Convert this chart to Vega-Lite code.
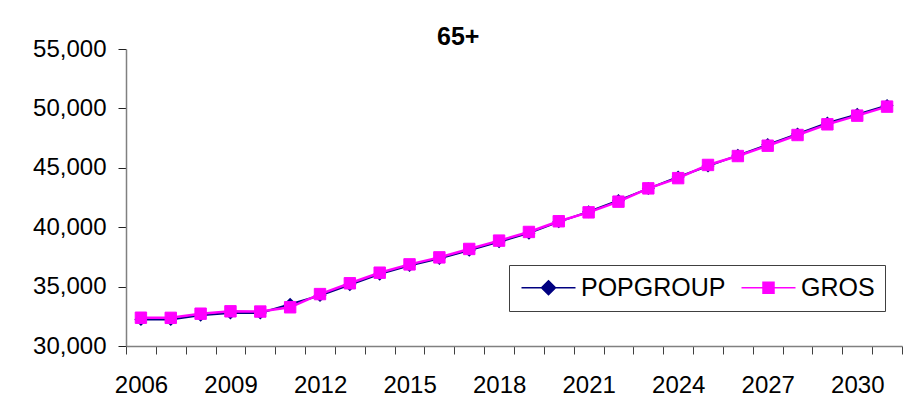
{
  "$schema": "https://vega.github.io/schema/vega-lite/v6.json",
  "width": 776,
  "height": 297,
  "autosize": "none",
  "padding": {"left": 126, "top": 49, "right": 2, "bottom": 65},
  "background": "white",
  "config": {"view": {"stroke": null}, "font": "Liberation Sans"},
  "title": {"text": "65+", "fontSize": 25, "fontWeight": "bold", "font": "Liberation Sans", "color": "black", "anchor": "start", "frame": "group", "dx": 311, "offset": -33, "baseline": "alphabetic"},
  "data": {"values": [
    {"year": 2006, "series": "POPGROUP", "value": 32240},
    {"year": 2007, "series": "POPGROUP", "value": 32240},
    {"year": 2008, "series": "POPGROUP", "value": 32580},
    {"year": 2009, "series": "POPGROUP", "value": 32780},
    {"year": 2010, "series": "POPGROUP", "value": 32780},
    {"year": 2011, "series": "POPGROUP", "value": 33520},
    {"year": 2012, "series": "POPGROUP", "value": 34250},
    {"year": 2013, "series": "POPGROUP", "value": 35150},
    {"year": 2014, "series": "POPGROUP", "value": 36050},
    {"year": 2015, "series": "POPGROUP", "value": 36780},
    {"year": 2016, "series": "POPGROUP", "value": 37360},
    {"year": 2017, "series": "POPGROUP", "value": 38060},
    {"year": 2018, "series": "POPGROUP", "value": 38770},
    {"year": 2019, "series": "POPGROUP", "value": 39500},
    {"year": 2020, "series": "POPGROUP", "value": 40450},
    {"year": 2021, "series": "POPGROUP", "value": 41300},
    {"year": 2022, "series": "POPGROUP", "value": 42250},
    {"year": 2023, "series": "POPGROUP", "value": 43250},
    {"year": 2024, "series": "POPGROUP", "value": 44230},
    {"year": 2025, "series": "POPGROUP", "value": 45150},
    {"year": 2026, "series": "POPGROUP", "value": 46050},
    {"year": 2027, "series": "POPGROUP", "value": 46950},
    {"year": 2028, "series": "POPGROUP", "value": 47850},
    {"year": 2029, "series": "POPGROUP", "value": 48770},
    {"year": 2030, "series": "POPGROUP", "value": 49500},
    {"year": 2031, "series": "POPGROUP", "value": 50250},
    {"year": 2006, "series": "GROS", "value": 32380},
    {"year": 2007, "series": "GROS", "value": 32370},
    {"year": 2008, "series": "GROS", "value": 32720},
    {"year": 2009, "series": "GROS", "value": 32920},
    {"year": 2010, "series": "GROS", "value": 32900},
    {"year": 2011, "series": "GROS", "value": 33260},
    {"year": 2012, "series": "GROS", "value": 34370},
    {"year": 2013, "series": "GROS", "value": 35280},
    {"year": 2014, "series": "GROS", "value": 36170},
    {"year": 2015, "series": "GROS", "value": 36870},
    {"year": 2016, "series": "GROS", "value": 37460},
    {"year": 2017, "series": "GROS", "value": 38170},
    {"year": 2018, "series": "GROS", "value": 38870},
    {"year": 2019, "series": "GROS", "value": 39600},
    {"year": 2020, "series": "GROS", "value": 40500},
    {"year": 2021, "series": "GROS", "value": 41250},
    {"year": 2022, "series": "GROS", "value": 42150},
    {"year": 2023, "series": "GROS", "value": 43270},
    {"year": 2024, "series": "GROS", "value": 44130},
    {"year": 2025, "series": "GROS", "value": 45240},
    {"year": 2026, "series": "GROS", "value": 45990},
    {"year": 2027, "series": "GROS", "value": 46860},
    {"year": 2028, "series": "GROS", "value": 47760},
    {"year": 2029, "series": "GROS", "value": 48660},
    {"year": 2030, "series": "GROS", "value": 49390},
    {"year": 2031, "series": "GROS", "value": 50150}
  ]},
  "encoding": {
    "x": {
      "field": "year", "type": "quantitative",
      "scale": {"domain": [2005.5, 2031.5], "nice": false, "zero": false},
      "axis": {
        "title": null, "grid": false,
        "values": [2005.5, 2006.5, 2007.5, 2008.5, 2009.5, 2010.5, 2011.5, 2012.5, 2013.5, 2014.5, 2015.5, 2016.5, 2017.5, 2018.5, 2019.5, 2020.5, 2021.5, 2022.5, 2023.5, 2024.5, 2025.5, 2026.5, 2027.5, 2028.5, 2029.5, 2030.5, 2031.5],
        "labelExpr": "((datum.value + 0.5 - 2006) % 3 === 0 && datum.value < 2031) ? format(datum.value + 0.5, 'd') : ''",
        "labelOffset": 15, "labelOverlap": false, "labelFlush": false, "labelBound": false,
        "labelFontSize": 24, "labelFont": "Liberation Sans", "labelColor": "black", "labelPadding": 19,
        "tickSize": 8, "tickColor": "#404040", "domainColor": "#808080", "domainWidth": 1.5
      }
    },
    "y": {
      "field": "value", "type": "quantitative",
      "scale": {"domain": [30000, 55000], "nice": false, "zero": false},
      "axis": {
        "title": null, "grid": false,
        "values": [30000, 35000, 40000, 45000, 50000, 55000],
        "format": ",d",
        "labelFontSize": 24, "labelFont": "Liberation Sans", "labelColor": "black", "labelPadding": 12,
        "tickSize": 8, "tickColor": "#202020", "domainColor": "#808080", "domainWidth": 1.5
      }
    }
  },
  "layer": [
    {
      "transform": [{"filter": "datum.series === 'POPGROUP'"}],
      "mark": {"type": "line", "strokeWidth": 2},
      "encoding": {
        "color": {
          "field": "series", "type": "nominal",
          "scale": {"domain": ["POPGROUP", "GROS"], "range": ["#000080", "#FF00FF"]},
          "legend": {
            "title": null, "orient": "none", "legendX": 383, "legendY": 216,
            "direction": "horizontal", "columns": 2, "padding": 10,
            "strokeColor": "#404040", "fillColor": "white",
            "labelFontSize": 25, "labelFont": "Liberation Sans", "labelColor": "black",
            "symbolSize": 400, "symbolOffset": 17, "symbolStrokeWidth": 1.5, "labelOffset": 20, "columnPadding": 12,
            "encode": {
              "symbols": {
                "update": {
                  "shape": {"signal": "datum.value === 'POPGROUP' ? 'M-2.7,0H2.7M0,-0.7L0.7,0L0,0.7L-0.7,0Z' : 'M-2.7,0H2.7M-0.55,-0.55H0.55V0.55H-0.55Z'"},
                  "fill": {"signal": "datum.value === 'POPGROUP' ? '#000080' : '#FF00FF'"},
                  "stroke": {"signal": "datum.value === 'POPGROUP' ? '#000080' : '#FF00FF'"},
                  "strokeWidth": {"value": 1.5},
                  "opacity": {"value": 1},
                  "fillOpacity": {"value": 1}
                }
              }
            }
          }
        }
      }
    },
    {
      "transform": [{"filter": "datum.series === 'POPGROUP'"}],
      "mark": {"type": "point", "shape": "diamond", "filled": true, "size": 170, "color": "#000080", "opacity": 1}
    },
    {
      "transform": [{"filter": "datum.series === 'GROS'"}],
      "mark": {"type": "line", "strokeWidth": 2.5},
      "encoding": {"color": {"field": "series", "type": "nominal"}}
    },
    {
      "transform": [{"filter": "datum.series === 'GROS'"}],
      "mark": {"type": "point", "shape": "square", "filled": true, "size": 130, "color": "#FF00FF", "stroke": "#FF00FF", "strokeWidth": 1, "opacity": 1}
    }
  ]
}
